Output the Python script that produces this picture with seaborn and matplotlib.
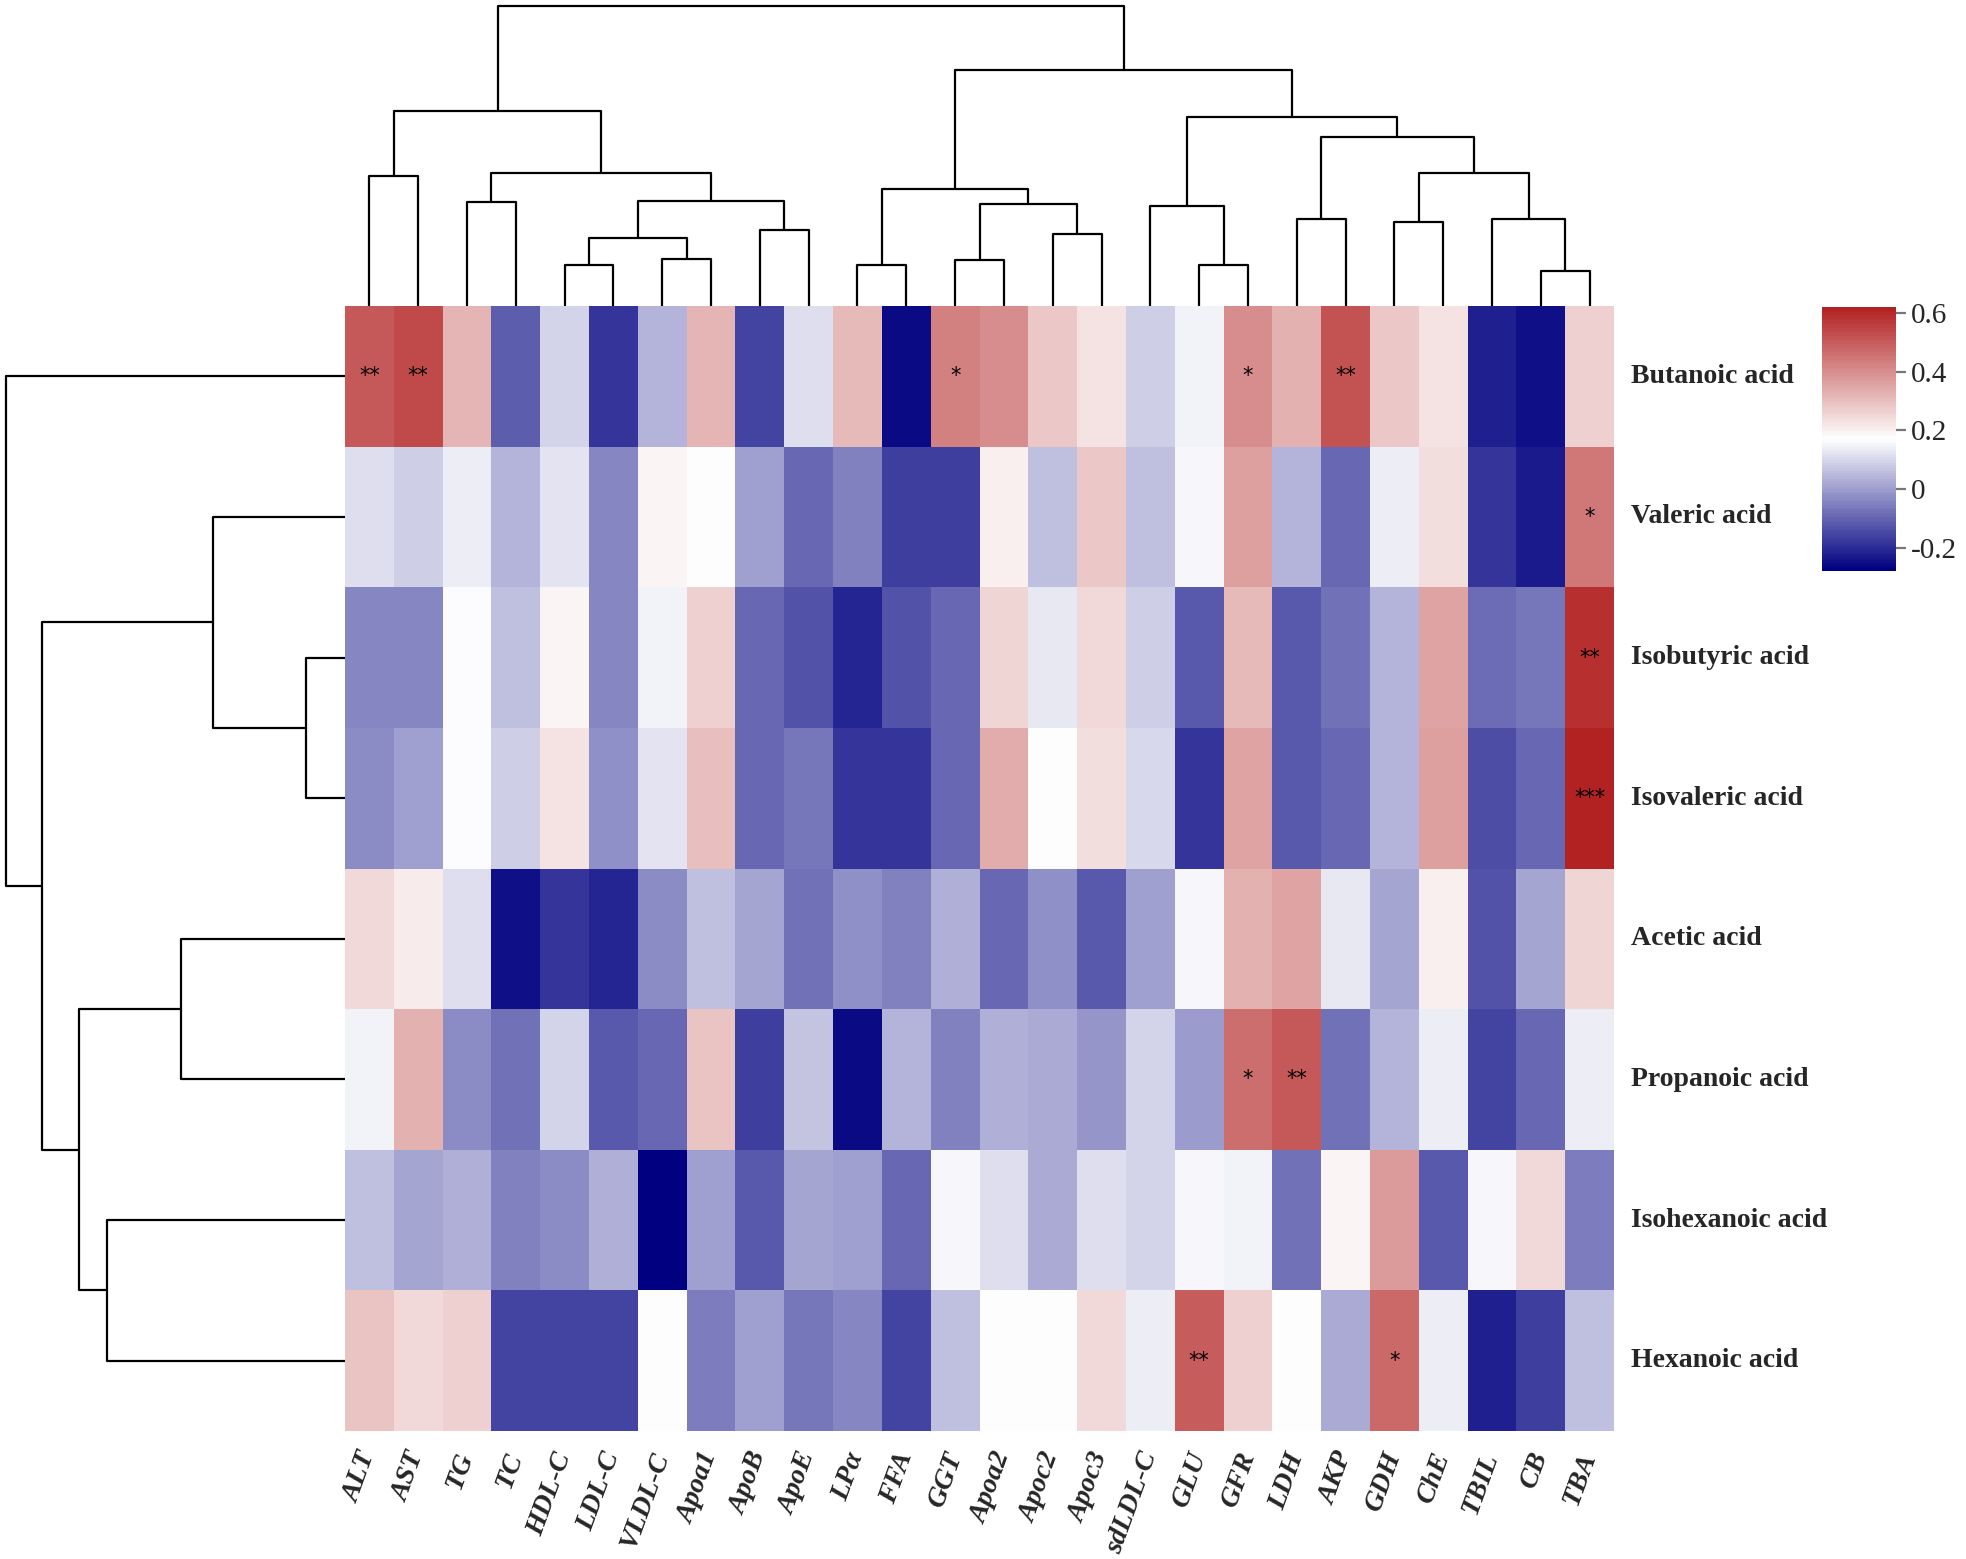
import numpy as np
import pandas as pd
import matplotlib
matplotlib.use("Agg")
import matplotlib.pyplot as plt
import seaborn as sns
from matplotlib.colors import LinearSegmentedColormap

# ---------------- data ----------------
markers = ["ALT", "AST", "TG", "TC", "HDL-C", "LDL-C", "VLDL-C", "Apoa1", "ApoB", "ApoE",
           "LPα", "FFA", "GGT", "Apoa2", "Apoc2", "Apoc3", "sdLDL-C", "GLU", "GFR", "LDH",
           "AKP", "GDH", "ChE", "TBIL", "CB", "TBA"]
acids = ["Butanoic acid", "Valeric acid", "Isobutyric acid", "Isovaleric acid",
         "Acetic acid", "Propanoic acid", "Isohexanoic acid", "Hexanoic acid"]

butanoic    = [0.51, 0.53, 0.32, -0.11, 0.09, -0.19, 0.035, 0.32, -0.155, 0.11, 0.31, -0.26, 0.43,
               0.40, 0.28, 0.225, 0.08, 0.15, 0.40, 0.33, 0.52, 0.28, 0.23, -0.22, -0.25, 0.26]
valeric     = [0.11, 0.08, 0.135, 0.035, 0.12, -0.045, 0.195, 0.175, 0.0, -0.10, -0.055, -0.165, -0.17,
               0.20, 0.06, 0.28, 0.06, 0.155, 0.36, 0.035, -0.10, 0.135, 0.24, -0.19, -0.235, 0.44]
isobutyric  = [-0.04, -0.04, 0.165, 0.06, 0.19, -0.045, 0.15, 0.26, -0.095, -0.135, -0.21, -0.135, -0.10,
               0.255, 0.13, 0.25, 0.08, -0.12, 0.31, -0.12, -0.08, 0.04, 0.355, -0.085, -0.07, 0.59]
isovaleric  = [-0.03, 0.0, 0.165, 0.08, 0.23, -0.025, 0.12, 0.30, -0.10, -0.07, -0.19, -0.19, -0.10,
               0.34, 0.17, 0.24, 0.10, -0.19, 0.35, -0.12, -0.095, 0.04, 0.365, -0.145, -0.10, 0.62]
acetic      = [0.25, 0.215, 0.11, -0.25, -0.19, -0.215, -0.035, 0.055, 0.01, -0.075, -0.025, -0.055, 0.03,
               -0.10, -0.025, -0.12, 0.005, 0.16, 0.33, 0.35, 0.13, 0.01, 0.20, -0.135, 0.01, 0.255]
propanoic   = [0.145, 0.33, -0.03, -0.08, 0.095, -0.12, -0.095, 0.29, -0.17, 0.07, -0.26, 0.035, -0.055,
               0.03, 0.025, -0.015, 0.09, -0.005, 0.465, 0.51, -0.08, 0.035, 0.14, -0.155, -0.10, 0.135]
isohexanoic = [0.06, 0.01, 0.03, -0.05, -0.035, 0.03, -0.28, 0.0, -0.12, 0.01, 0.0, -0.095, 0.16,
               0.115, 0.025, 0.115, 0.09, 0.16, 0.15, -0.075, 0.195, 0.37, -0.125, 0.16, 0.245, -0.06]
hexanoic    = [0.29, 0.25, 0.26, -0.155, -0.155, -0.16, 0.17, -0.06, 0.0, -0.065, -0.04, -0.16, 0.06,
               0.17, 0.17, 0.25, 0.14, 0.495, 0.26, 0.17, 0.02, 0.47, 0.135, -0.22, -0.17, 0.06]

# significance marks: (acid, marker, label)
sig_acid   = ["Butanoic acid", "Butanoic acid", "Butanoic acid", "Butanoic acid", "Butanoic acid",
              "Valeric acid", "Isobutyric acid", "Isovaleric acid",
              "Propanoic acid", "Propanoic acid", "Hexanoic acid", "Hexanoic acid"]
sig_marker = ["ALT", "AST", "GGT", "GFR", "AKP", "TBA", "TBA", "TBA", "GFR", "LDH", "GLU", "GDH"]
sig_label  = ["**", "**", "*", "*", "**", "*", "**", "***", "*", "**", "**", "*"]

# colour scale
cbar_ticks = [-0.2, 0, 0.2, 0.4, 0.6]
cbar_ticklabels = ["-0.2", "0", "0.2", "0.4", "0.6"]

# dendrogram merges: (left, right, height)
col_merges = [
    ("ALT", "AST", 0.432), ("TG", "TC", 0.348), ("HDL-C", "LDL-C", 0.136),
    ("VLDL-C", "Apoa1", 0.155), ("c2", "c3", 0.227), ("ApoB", "ApoE", 0.252),
    ("c4", "c5", 0.351), ("c1", "c6", 0.442), ("c0", "c7", 0.651),
    ("LPα", "FFA", 0.136), ("GGT", "Apoa2", 0.153), ("Apoc2", "Apoc3", 0.240),
    ("c10", "c11", 0.340), ("c9", "c12", 0.389), ("GLU", "GFR", 0.136),
    ("sdLDL-C", "c14", 0.333), ("LDH", "AKP", 0.289), ("GDH", "ChE", 0.281),
    ("CB", "TBA", 0.116), ("TBIL", "c18", 0.289), ("c17", "c19", 0.442),
    ("c16", "c20", 0.563), ("c15", "c21", 0.630), ("c13", "c22", 0.786),
    ("c8", "c23", 1.000),
]
row_merges = [
    ("Isobutyric acid", "Isovaleric acid", 0.114), ("Valeric acid", "c0", 0.389),
    ("Acetic acid", "Propanoic acid", 0.483), ("Isohexanoic acid", "Hexanoic acid", 0.702),
    ("c2", "c3", 0.784), ("c1", "c4", 0.895), ("Butanoic acid", "c5", 1.000),
]

# ---------------- figure ----------------
sns.set_style("white")
plt.rcParams["font.family"] = ["Liberation Serif", "DejaVu Serif"]

W, H = 1966, 1559
fig = plt.figure(figsize=(W / 100, H / 100), dpi=100)


def box(x0, y0, x1, y1):
    return [x0 / W, 1 - y1 / H, (x1 - x0) / W, (y1 - y0) / H]


HX0, HY0, HX1, HY1 = 345, 306, 1614, 1431
ax_hm = fig.add_axes(box(HX0, HY0, HX1, HY1))
ax_cd = fig.add_axes(box(HX0, 6, HX1, HY0))
ax_rd = fig.add_axes(box(6, HY0, HX0, HY1))
ax_cb = fig.add_axes(box(1822, 307, 1896, 571))

df = pd.DataFrame([butanoic, valeric, isobutyric, isovaleric, acetic, propanoic, isohexanoic, hexanoic],
                  index=acids, columns=markers)
annot = pd.DataFrame("", index=acids, columns=markers)
for a, m, s in zip(sig_acid, sig_marker, sig_label):
    annot.loc[a, m] = s

cmap = LinearSegmentedColormap.from_list("nwf", ["navy", "white", "firebrick"], N=100)
sns.heatmap(df, ax=ax_hm, cmap=cmap, vmin=-0.28, vmax=0.62, annot=annot.values, fmt="",
            annot_kws={"fontsize": 15, "color": "black", "family": "DejaVu Sans"},
            cbar_ax=ax_cb, cbar_kws={"ticks": cbar_ticks})

ax_hm.set_xlabel("")
ax_hm.set_ylabel("")
ax_hm.yaxis.tick_right()
ax_hm.set_yticks(np.arange(len(acids)) + 0.5)
ax_hm.set_yticklabels(acids, rotation=0, fontsize=20, fontweight="bold", va="center")
ax_hm.set_xticks(np.arange(len(markers)) + 0.5)
ax_hm.set_xticklabels(markers, rotation=70, ha="right", va="center", rotation_mode="anchor",
                      fontsize=20, fontweight="bold", fontstyle="italic")
ax_hm.tick_params(axis="both", length=0)
ax_hm.tick_params(axis="y", pad=12)
ax_hm.tick_params(axis="x", pad=16)
for s in ax_hm.spines.values():
    s.set_visible(False)

# colorbar styling
cb = ax_hm.collections[0].colorbar
cb.outline.set_visible(False)
cb.set_ticklabels(cbar_ticklabels)
ax_cb.tick_params(length=7, width=1.6, color="#777777", labelsize=21, pad=4)


# dendrograms
def draw_dendro(ax, leaves, merges, orient):
    pos = {name: (i + 0.5, 0.0) for i, name in enumerate(leaves)}
    for k, (a, b, h) in enumerate(merges):
        xa, ha = pos[a]
        xb, hb = pos[b]
        p = [xa, xa, xb, xb]
        q = [ha, h, h, hb]
        if orient == "top":
            ax.plot(p, q, color="black", lw=1.6, clip_on=False, solid_capstyle="butt")
        else:
            ax.plot(q, p, color="black", lw=1.6, clip_on=False, solid_capstyle="butt")
        pos["c%d" % k] = ((xa + xb) / 2, h)


draw_dendro(ax_cd, markers, col_merges, "top")
ax_cd.set_xlim(0, len(markers))
ax_cd.set_ylim(0, 1.0)
ax_cd.axis("off")

draw_dendro(ax_rd, acids, row_merges, "left")
ax_rd.set_ylim(len(acids), 0)
ax_rd.set_xlim(1.0, 0)
ax_rd.axis("off")

fig.savefig("out.png", dpi=100)
